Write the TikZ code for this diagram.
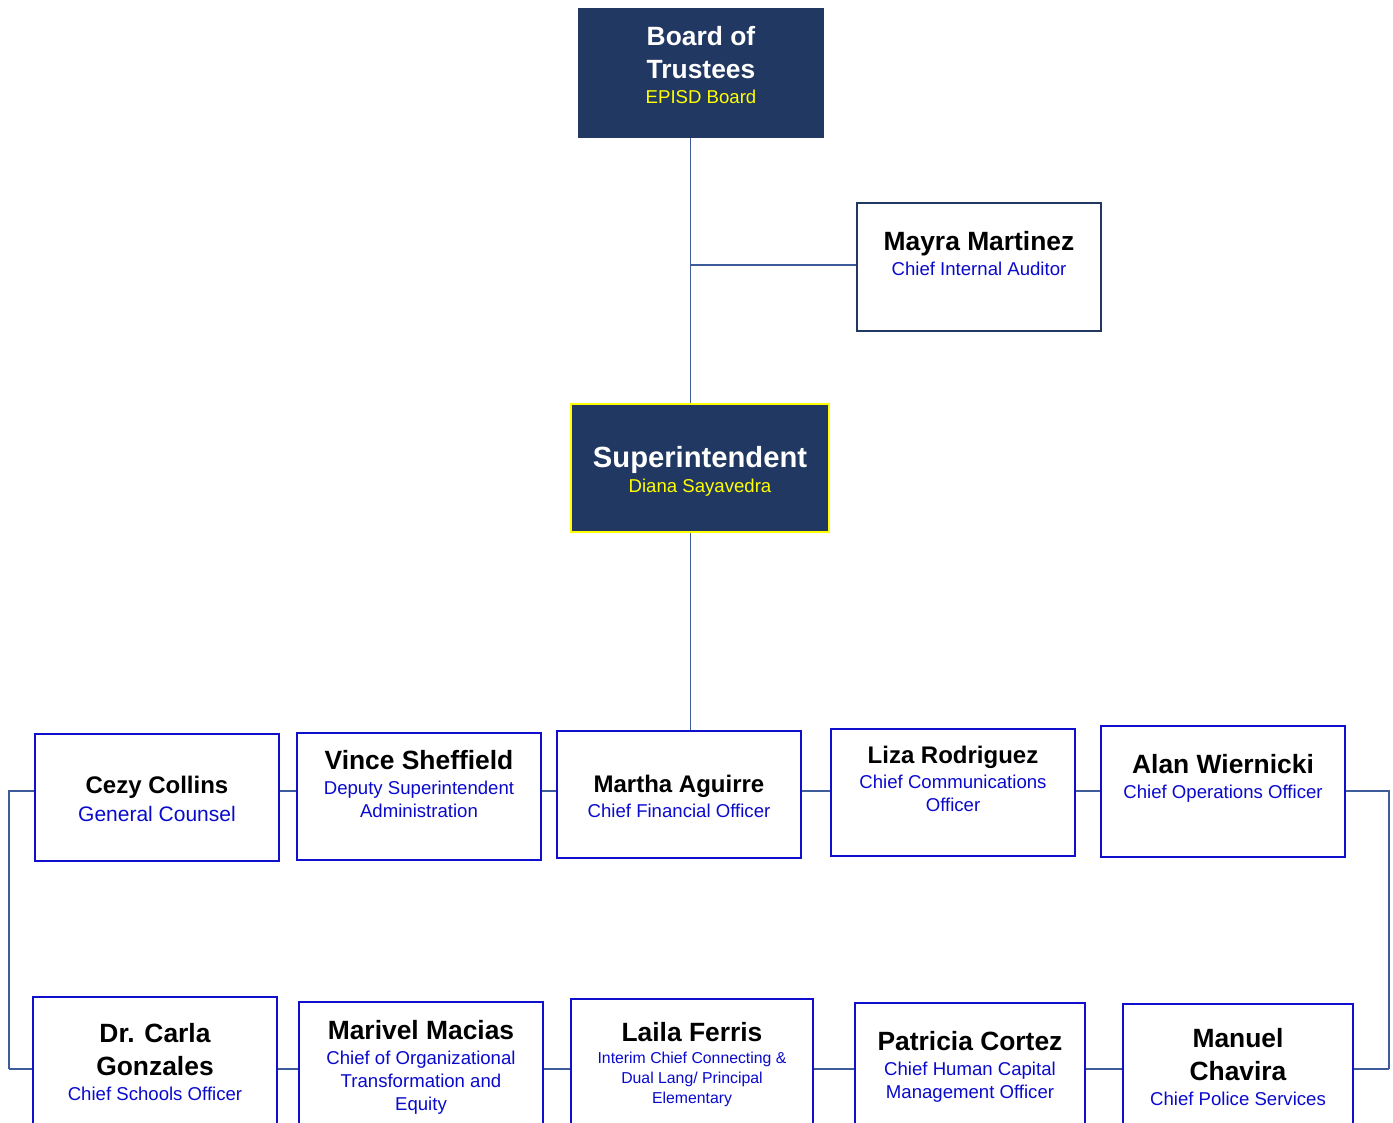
\documentclass[tikz,border=0pt]{standalone}
\usepackage{fontspec}
\setmainfont{Liberation Sans}
\usetikzlibrary{positioning,backgrounds}

\definecolor{navy}{RGB}{33,56,98}
\definecolor{rolecol}{RGB}{10,10,205}
\definecolor{edgecol}{RGB}{15,15,205}
\definecolor{linecol}{RGB}{62,92,153}
\definecolor{goldtxt}{RGB}{255,255,0}

\newcommand{\nm}[2][black]{{\fontsize{26.4}{30}\selectfont\bfseries\color{#1}#2}}
\newcommand{\nms}[1]{{\fontsize{24}{28}\selectfont\bfseries\color{black}#1}}

\begin{document}
\begin{tikzpicture}[x=1pt,y=-1pt,
  box/.style={draw=edgecol,line width=2pt,fill=white,inner sep=0pt,minimum width=244pt,minimum height=127pt},
  navybox/.style={fill=navy,inner sep=0pt},
  txt/.style={align=center,inner sep=0pt,text=rolecol,font=\fontsize{18.6}{23}\selectfont},
  link/.style={draw=linecol,line width=1.5pt}]
\useasboundingbox (0,0) rectangle (1393,1123);
\clip (0,0) rectangle (1393,1123);

% top of the chart
\node[navybox,minimum width=246pt,minimum height=130pt] (board) at (701,73) {};
\node[box,draw=navy,minimum width=244pt,minimum height=128pt] (mayra) at (979,267) {};
\node[navybox,draw=goldtxt,line width=2pt,minimum width=258pt,minimum height=128pt] (super) at (700,468) {};

\node[txt,text=goldtxt] (boardt) at (701,65) {\nm[white]{Board of}\\[10pt]\nm[white]{Trustees}\\[2pt]EPISD Board};
\node[txt] (mayrat) at (979,254) {\nm{Mayra Martinez}\\[2pt]Chief Internal Auditor};
\node[txt,text=goldtxt] (supert) at (700,471.5) {{\fontsize{29.2}{33}\selectfont\bfseries\color{white}Superintendent}\\[2pt]Diana Sayavedra};

% first row
\node[box] (cezy) at (157,797.5) {};
\node[box] (vince) at (419,796.5) {};
\node[box] (martha) at (679,794.5) {};
\node[box] (liza) at (953,792.5) {};
\node[box,minimum height=131pt] (alan) at (1223,791.5) {};

\node[txt,font=\fontsize{21}{25}\selectfont] (cezyt) at (157,798.5) {\nms{Cezy Collins}\\[3pt]General Counsel};
\node[txt] (vincet) at (419,784.5) {\nm{Vince Sheffield}\\[2pt]Deputy Superintendent\\Administration};
\node[txt] (marthat) at (679,796) {\nms{Martha Aguirre}\\[2pt]Chief Financial Officer};
\node[txt] (lizat) at (953,778.5) {\nms{Liza Rodriguez}\\[2pt]Chief Communications\\Officer};
\node[txt] (alant) at (1223,778.5) {\nm{Alan Wiernicki}\\[2pt]Chief Operations Officer};

% second row
\node[box] (carla) at (155,1060.5) {};
\node[box] (marivel) at (421,1065.5) {};
\node[box,minimum width=242pt] (laila) at (692,1062.5) {};
\node[box,minimum width=230pt] (patricia) at (970,1066.5) {};
\node[box,minimum width=230pt] (manuel) at (1238,1067.5) {};

\node[txt] (carlat) at (155,1062.5) {\nm{Dr. Carla}\\[10pt]\nm{Gonzales}\\[2pt]Chief Schools Officer};
\node[txt] (marivelt) at (421,1067) {\nm{Marivel Macias}\\[2pt]Chief of Organizational\\Transformation and\\Equity};
\node[txt,font=\fontsize{15.8}{20}\selectfont] (lailat) at (692,1065) {\nm{Laila Ferris}\\[2pt]Interim Chief Connecting \&\\Dual Lang/ Principal\\Elementary};
\node[txt] (patriciat) at (970,1066.5) {\nm{Patricia Cortez}\\[2pt]Chief Human Capital\\Management Officer};
\node[txt] (manuelt) at (1238,1067.5) {\nm{Manuel}\\[10pt]\nm{Chavira}\\[2pt]Chief Police Services};

% connectors
\coordinate (sp) at (690.5,0);
\coordinate (lt) at (9,791);
\coordinate (lb) at (9,1069);
\coordinate (rt) at (1389,791);
\coordinate (rb) at (1389,1069);
\begin{scope}[on background layer]
\draw[link] (board.south -| sp) -- (super.north -| sp);
\draw[link] (sp |- 0,265) -- (mayra.west |- 0,265);
\draw[link] (super.south -| sp) -- (martha.north -| sp);
\draw[link,line width=2.5pt] (lb) -- (lt) -- (rt) -- (rb);
\draw[link,line width=2.5pt] (lb) -- (rb);
\end{scope}
\end{tikzpicture}
\end{document}
